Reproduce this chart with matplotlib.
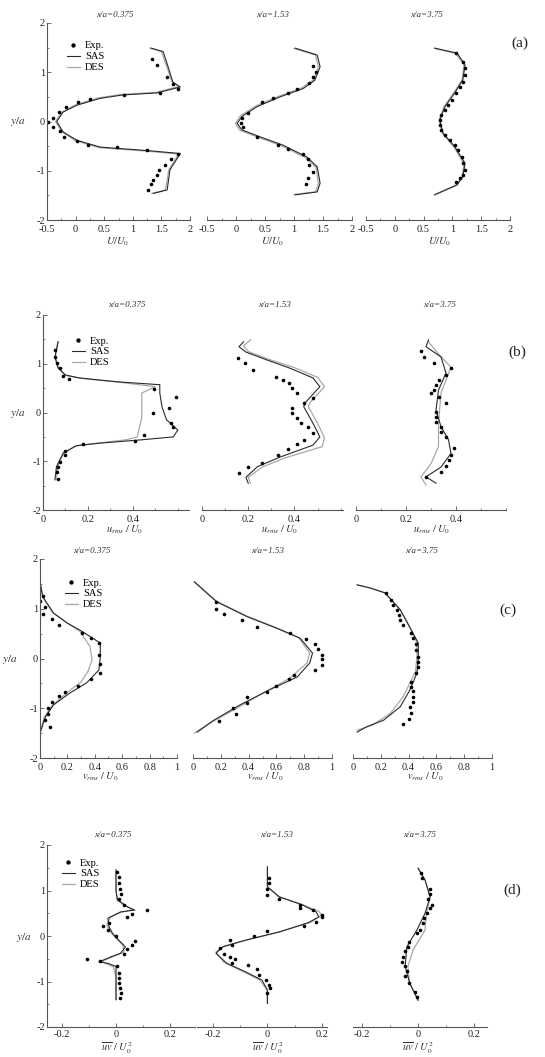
import matplotlib.pyplot as plt
import numpy as np

plt.rcParams['font.family'] = ['Liberation Serif', 'DejaVu Serif']
plt.rcParams['mathtext.fontset'] = 'stix'

W, H = 545, 1057

stations = ['x/a=0.375', 'x/a=1.53', 'x/a=3.75']
row_tags = ['(a)', '(b)', '(c)', '(d)']
xlabels = [r'$U/U_0$', r'$u_{rms}\ /\ U_0$', r'$v_{rms}\ /\ U_0$', r'$\overline{uv}\ /\ U_0^2$']
legend_names = ['Exp.', 'SAS', 'DES']

# (a) mean streamwise velocity, pairs of (U/U0, y/a)
a1_exp = [(1.33, 1.26), (1.42, 1.14), (1.59, 0.90), (1.71, 0.76), (1.79, 0.67), (1.48, 0.58), (0.85, 0.54),
          (0.25, 0.46), (0.05, 0.40), (-0.17, 0.30), (-0.29, 0.20), (-0.39, 0.08), (-0.48, 0.0), (-0.39, -0.11),
          (-0.27, -0.19), (-0.20, -0.31), (0.03, -0.39), (0.22, -0.48), (0.73, -0.52), (1.24, -0.58),
          (1.79, -0.66), (1.67, -0.77), (1.56, -0.89), (1.46, -0.99), (1.42, -1.09), (1.36, -1.19),
          (1.31, -1.27), (1.27, -1.39)]
a1_sas = [(1.32, 1.49), (1.53, 1.42), (1.62, 1.1), (1.70, 0.80), (1.83, 0.70), (1.42, 0.58), (0.83, 0.54),
          (0.43, 0.47), (0.02, 0.33), (-0.22, 0.19), (-0.33, 0.0), (-0.22, -0.21), (0.02, -0.38), (0.43, -0.52),
          (1.25, -0.59), (1.83, -0.65), (1.65, -0.98), (1.60, -1.39), (1.36, -1.46)]
a1_des = [(1.30, 1.49), (1.50, 1.42), (1.60, 1.1), (1.68, 0.82), (1.80, 0.71), (1.40, 0.59), (0.80, 0.55),
          (0.40, 0.48), (0.0, 0.34), (-0.24, 0.19), (-0.35, 0.0), (-0.24, -0.21), (0.0, -0.39), (0.40, -0.53),
          (1.22, -0.60), (1.80, -0.66), (1.63, -0.98), (1.57, -1.39), (1.33, -1.46)]
a2_exp = [(1.33, 1.13), (1.38, 1.01), (1.33, 0.90), (1.26, 0.78), (1.05, 0.66), (0.90, 0.58), (0.64, 0.48),
          (0.45, 0.40), (0.21, 0.17), (0.10, 0.07), (0.09, -0.03), (0.12, -0.11), (0.36, -0.31), (0.72, -0.48),
          (0.90, -0.56), (1.16, -0.66), (1.24, -0.77), (1.26, -0.88), (1.33, -1.02), (1.24, -1.15),
          (1.21, -1.27)]
a2_sas = [(1.02, 1.49), (1.40, 1.35), (1.45, 1.11), (1.36, 0.84), (1.16, 0.67), (0.76, 0.50), (0.36, 0.30),
          (0.10, 0.10), (0.02, -0.04), (0.10, -0.17), (0.41, -0.31), (0.81, -0.48), (1.22, -0.72),
          (1.40, -0.92), (1.45, -1.25), (1.40, -1.43), (1.02, -1.49)]
a2_des = [(1.00, 1.48), (1.37, 1.35), (1.42, 1.11), (1.34, 0.85), (1.13, 0.68), (0.73, 0.51), (0.33, 0.31),
          (0.07, 0.11), (-0.01, -0.04), (0.07, -0.18), (0.38, -0.32), (0.78, -0.49), (1.19, -0.73),
          (1.38, -0.93), (1.42, -1.25), (1.37, -1.43), (1.00, -1.48)]
a3_exp = [(1.07, 1.39), (1.18, 1.21), (1.22, 1.08), (1.22, 0.95), (1.18, 0.81), (1.13, 0.71), (1.07, 0.57),
          (0.99, 0.44), (0.92, 0.33), (0.87, 0.23), (0.81, 0.13), (0.78, 0.03), (0.78, -0.07), (0.81, -0.17),
          (0.87, -0.27), (0.95, -0.38), (1.04, -0.48), (1.10, -0.58), (1.16, -0.72), (1.18, -0.85),
          (1.22, -0.98), (1.18, -1.08), (1.13, -1.15), (1.07, -1.22)]
a3_sas = [(0.69, 1.49), (1.08, 1.39), (1.22, 1.15), (1.18, 0.84), (1.04, 0.58), (0.87, 0.30), (0.78, 0.03),
          (0.84, -0.24), (1.04, -0.51), (1.22, -0.85), (1.18, -1.12), (1.08, -1.29), (0.69, -1.49)]
a3_des = [(0.70, 1.48), (1.06, 1.38), (1.20, 1.15), (1.17, 0.85), (1.03, 0.59), (0.86, 0.31), (0.77, 0.03),
          (0.83, -0.25), (1.03, -0.52), (1.20, -0.86), (1.17, -1.12), (1.06, -1.29), (0.70, -1.48)]

# (b) streamwise rms, pairs of (u_rms/U0, y/a)
b1_exp = [(0.053, 1.28), (0.053, 1.13), (0.063, 1.02), (0.076, 0.91), (0.089, 0.75), (0.116, 0.68),
          (0.493, 0.48), (0.59, 0.32), (0.56, 0.09), (0.49, -0.01), (0.57, -0.21), (0.58, -0.30),
          (0.45, -0.46), (0.41, -0.58), (0.18, -0.64), (0.10, -0.78), (0.098, -0.87), (0.076, -1.01),
          (0.067, -1.11), (0.063, -1.23), (0.067, -1.37)]
b1_sas = [(0.067, 1.45), (0.053, 1.14), (0.067, 0.91), (0.10, 0.77), (0.16, 0.71), (0.33, 0.63), (0.52, 0.57),
          (0.52, 0.40), (0.53, 0.11), (0.55, -0.15), (0.60, -0.36), (0.58, -0.50), (0.44, -0.56), (0.25, -0.63),
          (0.15, -0.68), (0.09, -0.83), (0.06, -1.11), (0.053, -1.38)]
b1_des = [(0.067, 1.45), (0.055, 1.14), (0.07, 0.91), (0.10, 0.76), (0.17, 0.70), (0.34, 0.62), (0.50, 0.53),
          (0.44, 0.40), (0.44, 0.12), (0.44, -0.09), (0.43, -0.29), (0.42, -0.50), (0.37, -0.56), (0.24, -0.63),
          (0.14, -0.69), (0.09, -0.85), (0.065, -1.12), (0.058, -1.38)]
b2_exp = [(0.155, 1.12), (0.185, 1.02), (0.22, 0.88), (0.32, 0.73), (0.35, 0.67), (0.376, 0.60), (0.39, 0.50),
          (0.41, 0.40), (0.48, 0.30), (0.44, 0.19), (0.39, 0.09), (0.39, -0.01), (0.41, -0.11), (0.43, -0.21),
          (0.46, -0.30), (0.48, -0.42), (0.44, -0.56), (0.41, -0.65), (0.37, -0.75), (0.33, -0.87),
          (0.26, -1.03), (0.20, -1.12), (0.16, -1.24)]
b2_sas = [(0.18, 1.45), (0.16, 1.35), (0.19, 1.24), (0.28, 1.08), (0.38, 0.91), (0.48, 0.71), (0.51, 0.53),
          (0.45, 0.22), (0.44, 0.12), (0.48, -0.22), (0.51, -0.50), (0.48, -0.67), (0.34, -0.91),
          (0.24, -1.11), (0.19, -1.33), (0.20, -1.45)]
b2_des = [(0.21, 1.49), (0.18, 1.37), (0.20, 1.25), (0.29, 1.09), (0.40, 0.92), (0.50, 0.72), (0.53, 0.53),
          (0.47, 0.22), (0.46, 0.12), (0.50, -0.22), (0.53, -0.52), (0.52, -0.70), (0.36, -0.93),
          (0.26, -1.12), (0.20, -1.33), (0.21, -1.45)]
b3_exp = [(0.26, 1.26), (0.27, 1.14), (0.31, 1.02), (0.38, 0.91), (0.36, 0.77), (0.33, 0.67), (0.32, 0.56),
          (0.31, 0.46), (0.30, 0.40), (0.33, 0.32), (0.36, 0.20), (0.32, 0.01), (0.32, -0.09), (0.32, -0.19),
          (0.34, -0.29), (0.34, -0.39), (0.36, -0.50), (0.39, -0.73), (0.38, -0.87), (0.37, -0.97),
          (0.36, -1.09), (0.34, -1.23), (0.28, -1.32)]
b3_sas = [(0.29, 1.49), (0.28, 1.35), (0.34, 1.14), (0.36, 0.81), (0.33, 0.46), (0.32, 0.05), (0.34, -0.29),
          (0.37, -0.56), (0.38, -0.84), (0.34, -1.12), (0.28, -1.32), (0.32, -1.45)]
b3_des = [(0.29, 1.45), (0.33, 1.20), (0.38, 0.93), (0.34, 0.40), (0.33, -0.22), (0.33, -0.70), (0.30, -1.05),
          (0.26, -1.32), (0.28, -1.49)]

# (c) vertical rms, pairs of (v_rms/U0, y/a)
c1_exp = [(0.0, 1.16), (0.02, 1.26), (0.04, 1.04), (0.02, 0.89), (0.09, 0.79), (0.14, 0.67), (0.31, 0.52),
          (0.37, 0.41), (0.43, 0.31), (0.43, 0.07), (0.44, -0.11), (0.44, -0.29), (0.37, -0.41), (0.28, -0.55),
          (0.18, -0.67), (0.14, -0.75), (0.09, -0.87), (0.06, -0.99), (0.06, -1.11), (0.04, -1.23),
          (0.07, -1.37)]
c1_sas = [(0.0, 1.54), (0.02, 1.24), (0.10, 0.91), (0.20, 0.71), (0.31, 0.54), (0.44, 0.31), (0.44, 0.03),
          (0.43, -0.23), (0.34, -0.49), (0.22, -0.69), (0.10, -0.93), (0.04, -1.17), (0.0, -1.50)]
c1_des = [(0.0, 1.54), (0.02, 1.24), (0.09, 0.93), (0.19, 0.73), (0.29, 0.55), (0.365, 0.24), (0.38, -0.03),
          (0.35, -0.26), (0.30, -0.47), (0.20, -0.68), (0.09, -0.94), (0.03, -1.18), (0.0, -1.50)]
c2_exp = [(0.165, 1.14), (0.165, 0.99), (0.22, 0.89), (0.35, 0.77), (0.46, 0.64), (0.70, 0.51), (0.81, 0.39),
          (0.88, 0.29), (0.90, 0.19), (0.93, 0.07), (0.93, -0.01), (0.93, -0.13), (0.88, -0.23), (0.73, -0.33),
          (0.69, -0.42), (0.60, -0.55), (0.53, -0.67), (0.39, -0.77), (0.39, -0.89), (0.29, -0.99),
          (0.31, -1.11), (0.19, -1.25)]
c2_sas = [(0.01, 1.54), (0.17, 1.14), (0.39, 0.84), (0.60, 0.61), (0.77, 0.41), (0.86, 0.11), (0.84, -0.09),
          (0.75, -0.37), (0.55, -0.63), (0.34, -0.93), (0.15, -1.24), (0.03, -1.48)]
c2_des = [(0.01, 1.54), (0.17, 1.15), (0.39, 0.85), (0.60, 0.62), (0.76, 0.42), (0.84, 0.11), (0.82, -0.09),
          (0.70, -0.39), (0.50, -0.70), (0.29, -1.04), (0.12, -1.30), (0.01, -1.50)]
c3_exp = [(0.24, 1.32), (0.27, 1.18), (0.29, 1.08), (0.32, 0.98), (0.33, 0.88), (0.34, 0.78), (0.36, 0.68),
          (0.42, 0.51), (0.43, 0.41), (0.45, 0.29), (0.45, 0.17), (0.47, 0.03), (0.47, -0.07), (0.47, -0.17),
          (0.45, -0.29), (0.42, -0.47), (0.42, -0.57), (0.43, -0.65), (0.43, -0.77), (0.43, -0.87),
          (0.41, -0.97), (0.42, -1.10), (0.40, -1.22), (0.36, -1.31)]
c3_sas = [(0.03, 1.48), (0.12, 1.42), (0.23, 1.32), (0.34, 0.98), (0.42, 0.57), (0.47, 0.31), (0.47, 0.03),
          (0.46, -0.29), (0.41, -0.63), (0.34, -0.97), (0.22, -1.24), (0.10, -1.37), (0.03, -1.48)]
c3_des = [(0.03, 1.48), (0.12, 1.42), (0.23, 1.32), (0.34, 0.98), (0.42, 0.57), (0.46, 0.31), (0.46, 0.03),
          (0.45, -0.25), (0.42, -0.43), (0.36, -0.77), (0.27, -1.10), (0.14, -1.34), (0.03, -1.44)]

# (d) shear stress, pairs of (uv/U0^2, y/a)
d1_exp = [(0.005, 1.41), (0.01, 1.29), (0.01, 1.17), (0.014, 1.03), (0.017, 0.92), (0.01, 0.81), (0.03, 0.68),
          (0.115, 0.57), (0.06, 0.48), (0.04, 0.41), (-0.027, 0.29), (-0.05, 0.22), (-0.03, 0.13), (0.0, 0.0),
          (0.07, -0.10), (0.06, -0.20), (0.04, -0.29), (0.03, -0.39), (-0.107, -0.50), (-0.06, -0.56),
          (0.005, -0.66), (0.01, -0.81), (0.01, -0.93), (0.01, -1.04), (0.014, -1.15), (0.017, -1.26),
          (0.014, -1.37)]
d1_sas = [(0.0, 1.45), (0.0, 1.0), (0.005, 0.80), (0.043, 0.64), (0.07, 0.57), (0.017, 0.53), (-0.03, 0.39),
          (-0.026, 0.20), (-0.013, 0.06), (0.01, -0.09), (0.035, -0.24), (0.017, -0.38), (-0.02, -0.46),
          (-0.063, -0.57), (-0.03, -0.60), (0.0, -0.67), (0.0, -0.90), (0.0, -1.40)]
d1_des = [(0.0, 1.45), (0.0, 1.0), (0.005, 0.78), (0.035, 0.66), (0.06, 0.58), (0.02, 0.52), (-0.02, 0.42),
          (-0.035, 0.25), (-0.02, 0.08), (0.0, -0.05), (0.025, -0.20), (0.03, -0.35), (-0.01, -0.45),
          (-0.05, -0.55), (-0.04, -0.60), (-0.01, -0.68), (0.0, -0.90), (0.0, -1.40)]
d2_exp = [(0.004, 1.27), (0.004, 1.17), (0.0, 1.03), (0.0, 0.90), (0.044, 0.81), (0.12, 0.68), (0.12, 0.62),
          (0.17, 0.57), (0.20, 0.46), (0.20, 0.42), (0.18, 0.31), (0.136, 0.22), (0.0, 0.11), (-0.05, 0.0),
          (-0.14, -0.09), (-0.13, -0.20), (-0.175, -0.27), (-0.16, -0.40), (-0.14, -0.46), (-0.12, -0.51),
          (-0.13, -0.59), (-0.07, -0.64), (-0.04, -0.73), (-0.03, -0.86), (-0.007, -0.97), (0.004, -1.08),
          (0.01, -1.14), (0.0, -1.25)]
d2_sas = [(0.0, 1.52), (0.0, 1.08), (0.044, 0.86), (0.13, 0.68), (0.18, 0.53), (0.19, 0.42), (0.15, 0.29),
          (0.044, 0.09), (-0.08, -0.09), (-0.165, -0.24), (-0.19, -0.38), (-0.15, -0.60), (-0.08, -0.79),
          (-0.02, -0.97), (0.0, -1.19), (0.0, -1.48)]
d2_des = [(0.0, 1.52), (0.0, 1.08), (0.04, 0.87), (0.13, 0.69), (0.19, 0.54), (0.20, 0.46), (0.16, 0.30),
          (0.05, 0.10), (-0.07, -0.08), (-0.16, -0.22), (-0.19, -0.35), (-0.16, -0.58), (-0.09, -0.78),
          (-0.03, -0.96), (0.0, -1.19), (0.0, -1.48)]
d3_exp = [(0.01, 1.38), (0.014, 1.27), (0.043, 1.03), (0.043, 0.92), (0.036, 0.81), (0.05, 0.68), (0.043, 0.62),
          (0.032, 0.50), (0.021, 0.39), (0.018, 0.29), (0.007, 0.13), (-0.004, 0.06), (-0.032, -0.13),
          (-0.036, -0.24), (-0.046, -0.34), (-0.054, -0.46), (-0.057, -0.57), (-0.046, -0.67), (-0.04, -0.78),
          (-0.046, -0.88), (-0.032, -1.03), (-0.011, -1.23), (-0.004, -1.34)]
d3_sas = [(0.0, 1.49), (0.025, 1.23), (0.043, 0.86), (0.025, 0.50), (-0.004, 0.13), (-0.04, -0.24),
          (-0.046, -0.67), (-0.03, -1.03), (0.0, -1.41)]
d3_des = [(0.0, 1.49), (0.025, 1.23), (0.043, 0.86), (0.03, 0.50), (0.025, 0.13), (-0.018, -0.31),
          (-0.036, -0.67), (-0.03, -1.03), (0.0, -1.41)]

panels = [[(a1_exp, a1_sas, a1_des), (a2_exp, a2_sas, a2_des), (a3_exp, a3_sas, a3_des)],
          [(b1_exp, b1_sas, b1_des), (b2_exp, b2_sas, b2_des), (b3_exp, b3_sas, b3_des)],
          [(c1_exp, c1_sas, c1_des), (c2_exp, c2_sas, c2_des), (c3_exp, c3_sas, c3_des)],
          [(d1_exp, d1_sas, d1_des), (d2_exp, d2_sas, d2_des), (d3_exp, d3_sas, d3_des)]]

# layout in pixels: y of y/a=2 and y/a=-2, x extents and limits of each panel
row_y = [(23, 220), (315, 510), (559, 758), (845, 1027)]
row_boxes = [[(47, 190), (207, 352), (366, 510)],
             [(43, 189), (202, 343), (356, 506)],
             [(40, 177), (193, 332), (353, 492)],
             [(47, 195), (197, 327), (353, 487)]]
row_xlims = [[(-0.5, 2), (-0.5, 2), (-0.5, 2)],
             [(0, 0.65), (0, 0.61), (0, 0.6)],
             [(0, 1), (0, 1), (0, 1)],
             [(-0.256, 0.293), (-0.26, 0.22), (-0.232, 0.246)]]
row_ticks = [[-0.5, 0, 0.5, 1, 1.5, 2], [0, 0.2, 0.4], [0, 0.2, 0.4, 0.6, 0.8, 1], [-0.2, 0, 0.2]]
row_ticklabels = [['-0.5', '0', '0.5', '1', '1.5', '2'], ['0', '0.2', '0.4'],
                  ['0', '0.2', '0.4', '0.6', '0.8', '1'], ['-0.2', '0', '0.2']]
row_minor = [0.25, 0.1, 0.1, 0.1]
row_xpad = [3.5, 3.5, 3.5, 2.0]
title_pos = [[(115, 15), (273, 15), (427, 15)],
             [(127, 305), (275, 305), (440, 305)],
             [(92, 551), (268, 551), (422, 551)],
             [(113, 835), (277, 835), (420, 835)]]
xlabel_pos = [[(118, 242), (273, 242), (440, 242)],
              [(125, 530), (280, 530), (432, 530)],
              [(100, 777), (265, 777), (425, 777)],
              [(117, 1048), (268, 1048), (418, 1048)]]
ylabel_pos = [(18, 122), (18, 413), (10, 659), (24, 937)]
tag_pos = [(520, 43), (517, 352), (508, 610), (512, 890)]
legend_pos = [(62, 36), (67, 331), (60, 573), (57, 853)]

ink = '#555555'
sas_c = '#2a2a2a'
des_c = '#a8a8a8'

fig = plt.figure(figsize=(W / 100, H / 100), dpi=100)


def fx(px):
    return px / W


def fy(py):
    return 1 - py / H


for r in range(4):
    ytop, ybot = row_y[r]
    for c in range(3):
        x0, x1 = row_boxes[r][c]
        ax = fig.add_axes([fx(x0), fy(ybot), (x1 - x0) / W, (ybot - ytop) / H])
        exp, sas, des = [np.array(s) for s in panels[r][c]]
        ax.plot(des[:, 0], des[:, 1], color=des_c, lw=0.9, label='DES')
        ax.plot(sas[:, 0], sas[:, 1], color=sas_c, lw=0.8, label='SAS')
        ax.plot(exp[:, 0], exp[:, 1], 'o', color='black', ms=2.6, mew=0, label='Exp.')
        ax.set_xlim(*row_xlims[r][c])
        ax.set_ylim(-2, 2)
        ax.set_xticks(row_ticks[r])
        ax.set_xticklabels(row_ticklabels[r])
        lo, hi = row_xlims[r][c]
        minors = np.arange(row_ticks[r][0] - row_minor[r] * 4, hi + 1e-9, row_minor[r])
        ax.set_xticks([m for m in minors if lo - 1e-9 <= m <= hi + 1e-9], minor=True)
        ax.patch.set_alpha(0)
        for s in ['top', 'right']:
            ax.spines[s].set_visible(False)
        ax.spines['bottom'].set_color(ink)
        ax.spines['left'].set_color(ink)
        ax.tick_params(direction='in', length=3, width=0.6, colors=ink, labelcolor='#222222',
                       labelsize=7.5, pad=1.5)
        ax.tick_params(axis='x', pad=row_xpad[r])
        ax.tick_params(which='minor', direction='in', length=1.6, width=0.5, colors=ink)
        if c == 0:
            ax.set_yticks([-2, -1, 0, 1, 2])
            ax.set_yticklabels(['-2', '-1', '0', '1', '2'])
            ax.set_yticks([-1.5, -0.5, 0.5, 1.5], minor=True)
            h, l = ax.get_legend_handles_labels()
            order = [2, 1, 0]
            lx, ly = legend_pos[r]
            ax.legend([h[i] for i in order], [l[i] for i in order], loc='upper left',
                      bbox_to_anchor=(fx(lx), fy(ly)), bbox_transform=fig.transFigure,
                      frameon=False, fontsize=7.5, handlelength=1.2, handletextpad=0.5,
                      labelspacing=0.15, borderpad=0, markerscale=1.2)
        else:
            ax.spines['left'].set_visible(False)
            ax.set_yticks([])
        tx, ty = title_pos[r][c]
        fig.text(fx(tx), fy(ty), stations[c], ha='center', va='center', fontsize=6.5,
                 style='italic', color='#333333')
        lx, ly = xlabel_pos[r][c]
        fig.text(fx(lx), fy(ly), xlabels[r], ha='center', va='center', fontsize=7.5, color='#333333')
    yx, yy = ylabel_pos[r]
    fig.text(fx(yx), fy(yy), r'$y/a$', ha='center', va='center', fontsize=8, color='#333333')
    gx, gy = tag_pos[r]
    fig.text(fx(gx), fy(gy), row_tags[r], ha='center', va='center', fontsize=11, color='#222222')

fig.savefig('out.png', dpi=100)
